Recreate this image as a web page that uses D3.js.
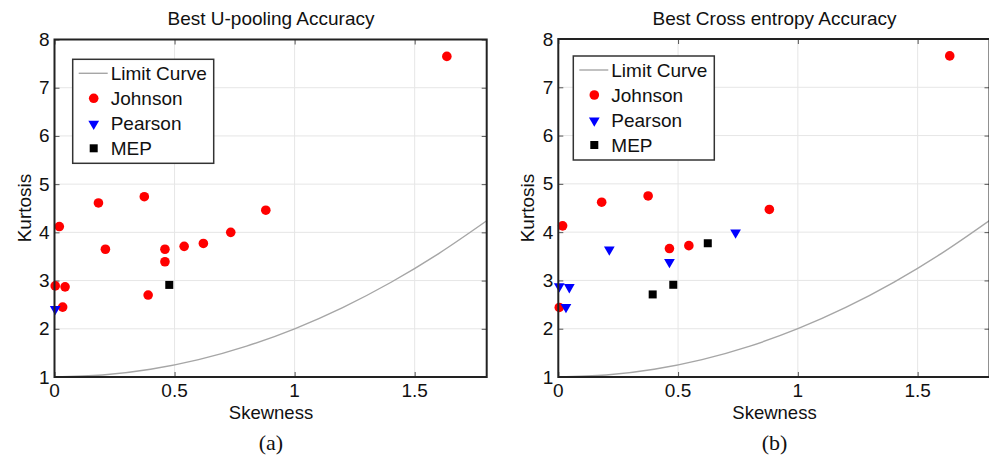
<!DOCTYPE html>
<html>
<head>
<meta charset="utf-8">
<script src="https://cdn.jsdelivr.net/npm/d3@7"></script>
<style>
  body { margin: 0; background: #fff; }
  text { font-family: Arial, "Liberation Sans", Helvetica, sans-serif; fill: #111; }
</style>
</head>
<body>
<svg id="chart" width="989" height="456"></svg>
<script>
// values: [skewness, kurtosis]
var johnsonA = [[0.003,2.89],[0.044,2.87],[0.034,2.45],[0.02,4.12],[0.183,4.61],[0.374,4.74],
  [0.212,3.65],[0.46,3.65],[0.46,3.39],[0.54,3.71],[0.62,3.77],[0.734,4.0],[0.88,4.46],[0.39,2.70],[1.634,7.65]];
var pearsonA = [[0.003,2.42]];
var mepA = [[0.478,2.91]];

var johnsonB = [[0.018,4.13],[0.181,4.62],[0.375,4.75],[0.464,3.66],[0.545,3.72],[0.881,4.47],[0.004,2.44],[1.634,7.65]];
var pearsonB = [[0.213,3.65],[0.464,3.39],[0.74,4.0],[0.004,2.89],[0.046,2.87],[0.032,2.46]];
var mepB = [[0.394,2.71],[0.48,2.91],[0.624,3.77]];

// limit curve as it is drawn
var limitSkew = [0,0.2,0.4,0.6,0.8,1.0,1.2,1.4,1.6,1.8];
var limitKurt = [1.0,1.04,1.16,1.36,1.64,2.0,2.44,2.96,3.56,4.24];

var xTicks = [0, 0.5, 1, 1.5];
var yTicks = [1, 2, 3, 4, 5, 6, 7, 8];
var legendNames = ["Limit Curve", "Johnson", "Pearson", "MEP"];

var svg = d3.select("#chart");

function drawPanel(o) {
  var x = d3.scaleLinear().domain([0, 1.8]).range([o.left, o.right]);
  var y = d3.scaleLinear().domain([1, 8]).range([o.bottom, o.top]);
  var g = svg.append("g");

  // grid
  g.selectAll(".gx").data(xTicks.slice(1)).enter().append("line")
    .attr("x1", d => x(d)).attr("x2", d => x(d))
    .attr("y1", o.top).attr("y2", o.bottom)
    .attr("stroke", "#e6e6e6").attr("stroke-width", 1);
  g.selectAll(".gy").data(yTicks.slice(1, -1)).enter().append("line")
    .attr("y1", d => y(d)).attr("y2", d => y(d))
    .attr("x1", o.left).attr("x2", o.right)
    .attr("stroke", "#e6e6e6").attr("stroke-width", 1);

  // inward ticks on all four sides
  var xAxB = d3.axisTop(x).tickValues(xTicks).tickSize(5).tickFormat("");
  var xAxT = d3.axisBottom(x).tickValues(xTicks).tickSize(5).tickFormat("");
  var yAxL = d3.axisRight(y).tickValues(yTicks).tickSize(5).tickFormat("");
  var yAxR = d3.axisLeft(y).tickValues(yTicks).tickSize(5).tickFormat("");
  [[xAxB, "translate(0," + o.bottom + ")"], [xAxT, "translate(0," + o.top + ")"],
   [yAxL, "translate(" + o.left + ",0)"], [yAxR, "translate(" + o.right + ",0)"]].forEach(function(a) {
    var ax = g.append("g").attr("transform", a[1]).call(a[0]);
    ax.select(".domain").remove();
    ax.selectAll("line").attr("stroke", "#555");
  });

  // tick labels
  g.selectAll(".xl").data(xTicks).enter().append("text")
    .attr("x", d => x(d)).attr("y", o.bottom + 19.5)
    .attr("text-anchor", "middle").attr("font-size", 19)
    .text(d => d3.format("")(d));
  g.selectAll(".yl").data(yTicks).enter().append("text")
    .attr("x", o.left - 5).attr("y", d => y(d) + 6.5)
    .attr("text-anchor", "end").attr("font-size", 19)
    .text(d => d);

  // limit curve
  var line = d3.line().x(d => x(d[0])).y(d => y(d[1])).curve(d3.curveMonotoneX);
  g.append("path").datum(d3.zip(limitSkew, limitKurt))
    .attr("d", line).attr("fill", "none")
    .attr("stroke", "#a6a6a6").attr("stroke-width", 1.4);

  // markers
  var tri = d3.symbol().type(d3.symbolTriangle).size(50);
  g.selectAll(".j").data(o.johnson).enter().append("circle")
    .attr("cx", d => x(d[0])).attr("cy", d => y(d[1])).attr("r", 4.8).attr("fill", "#f00");
  g.selectAll(".p").data(o.pearson).enter().append("path")
    .attr("d", tri).attr("fill", "#00f")
    .attr("transform", d => "translate(" + x(d[0]) + "," + (y(d[1]) + 0.5) + ") rotate(180)");
  g.selectAll(".m").data(o.mep).enter().append("rect")
    .attr("x", d => x(d[0]) - 4).attr("y", d => y(d[1]) - 4)
    .attr("width", 8).attr("height", 8).attr("fill", "#000");

  // box
  g.append("rect").attr("x", o.left).attr("y", o.top)
    .attr("width", o.right - o.left).attr("height", o.bottom - o.top)
    .attr("fill", "none").attr("stroke", "#222").attr("stroke-width", 2);

  // legend
  var lg = g.append("g").attr("transform", "translate(" + o.legX + "," + o.legY + ")");
  lg.append("rect").attr("width", 141).attr("height", 104)
    .attr("fill", "#fff").attr("stroke", "#333").attr("stroke-width", 1.5);
  legendNames.forEach(function(name, i) {
    var cy = 14 + i * 25;
    if (i === 0) lg.append("line").attr("x1", 6).attr("x2", 35).attr("y1", cy).attr("y2", cy)
      .attr("stroke", "#a6a6a6").attr("stroke-width", 1.4);
    if (i === 1) lg.append("circle").attr("cx", 21).attr("cy", cy).attr("r", 4.8).attr("fill", "#f00");
    if (i === 2) lg.append("path").attr("d", tri).attr("fill", "#00f")
      .attr("transform", "translate(21," + (cy + 0.5) + ") rotate(180)");
    if (i === 3) lg.append("rect").attr("x", 17).attr("y", cy - 4).attr("width", 8).attr("height", 8).attr("fill", "#000");
    lg.append("text").attr("x", 38).attr("y", cy + 7).attr("font-size", 19).text(name);
  });

  // titles and labels
  g.append("text").attr("x", o.titleX).attr("y", 25).attr("text-anchor", "middle")
    .attr("font-size", 19).text(o.title);
  g.append("text").attr("x", o.titleX).attr("y", 419).attr("text-anchor", "middle")
    .attr("font-size", 18.5).text("Skewness");
  g.append("text").attr("transform", "translate(" + o.ylabX + ",208) rotate(-90)")
    .attr("text-anchor", "middle").attr("font-size", 19).text("Kurtosis");
  g.append("text").attr("x", o.titleX).attr("y", 450).attr("text-anchor", "middle")
    .attr("font-size", 22).style("font-family", "'Liberation Serif', 'Times New Roman', serif")
    .text(o.caption);
}

drawPanel({left: 54.5, right: 486.7, top: 39.5, bottom: 377, legX: 72.7, legY: 59.3,
  titleX: 271, ylabX: 31, title: "Best U-pooling Accuracy", caption: "(a)",
  johnson: johnsonA, pearson: pearsonA, mep: mepA});
drawPanel({left: 558.3, right: 989.5, top: 39, bottom: 377, legX: 573.3, legY: 56,
  titleX: 774.5, ylabX: 534, title: "Best Cross entropy Accuracy", caption: "(b)",
  johnson: johnsonB, pearson: pearsonB, mep: mepB});
</script>
</body>
</html>
